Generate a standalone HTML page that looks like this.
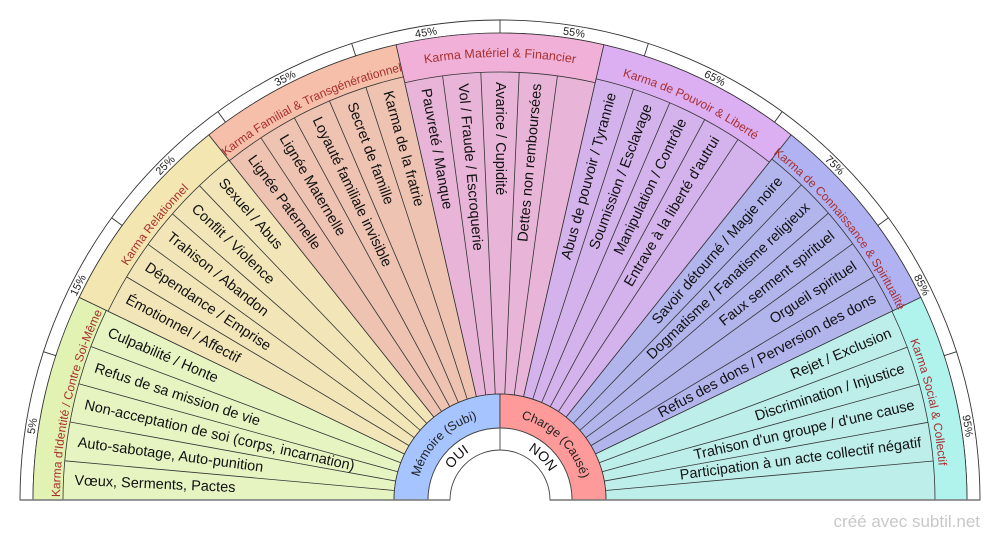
<!DOCTYPE html>
<html><head><meta charset="utf-8"><style>
html,body{margin:0;padding:0;background:#fff;width:1000px;height:540px;overflow:hidden;}
svg{display:block;font-family:"Liberation Sans",sans-serif;}
.it{font-size:14.5px;fill:#111;dominant-baseline:central;}
.cat{font-size:12px;fill:#a8302f;}
.pc{font-size:11px;fill:#222;}
</style></head><body>
<svg width="1000" height="540" viewBox="0 0 1000 540" xmlns="http://www.w3.org/2000/svg">
<defs>
<path id="p470" d="M 30 500 A 470 470 0 0 1 970 500"/>
<path id="c440" d="M 60 500 A 440 440 0 0 1 940 500"/>
<path id="c441" d="M 59 500 A 441 441 0 0 1 941 500"/>
<path id="c443" d="M 57 500 A 443 443 0 0 1 943 500"/>
<path id="m84" d="M 416 500 A 84 84 0 0 1 584 500"/>
<path id="o57" d="M 443 500 A 57 57 0 0 1 557 500"/>
</defs>
<path d="M 20 500 A 480 480 0 0 1 980 500 L 967 500 A 467 467 0 0 0 33 500 Z" fill="#fff" stroke="#333" stroke-width="0.9"/>
<g transform="translate(500,500)" stroke="#333" stroke-width="0.9">
<line x1="-467" y1="0" x2="-480" y2="0" transform="rotate(18)"/>
<line x1="-467" y1="0" x2="-480" y2="0" transform="rotate(36)"/>
<line x1="-467" y1="0" x2="-480" y2="0" transform="rotate(54)"/>
<line x1="-467" y1="0" x2="-480" y2="0" transform="rotate(72)"/>
<line x1="-467" y1="0" x2="-480" y2="0" transform="rotate(90)"/>
<line x1="-467" y1="0" x2="-480" y2="0" transform="rotate(108)"/>
<line x1="-467" y1="0" x2="-480" y2="0" transform="rotate(126)"/>
<line x1="-467" y1="0" x2="-480" y2="0" transform="rotate(144)"/>
<line x1="-467" y1="0" x2="-480" y2="0" transform="rotate(162)"/>
</g>
<text class="pc" text-anchor="middle"><textPath href="#p470" startOffset="5%">5%</textPath></text>
<text class="pc" text-anchor="middle"><textPath href="#p470" startOffset="15%">15%</textPath></text>
<text class="pc" text-anchor="middle"><textPath href="#p470" startOffset="25%">25%</textPath></text>
<text class="pc" text-anchor="middle"><textPath href="#p470" startOffset="35%">35%</textPath></text>
<text class="pc" text-anchor="middle"><textPath href="#p470" startOffset="45%">45%</textPath></text>
<text class="pc" text-anchor="middle"><textPath href="#p470" startOffset="55%">55%</textPath></text>
<text class="pc" text-anchor="middle"><textPath href="#p470" startOffset="65%">65%</textPath></text>
<text class="pc" text-anchor="middle"><textPath href="#p470" startOffset="75%">75%</textPath></text>
<text class="pc" text-anchor="middle"><textPath href="#p470" startOffset="85%">85%</textPath></text>
<text class="pc" text-anchor="middle"><textPath href="#p470" startOffset="95%">95%</textPath></text>

<g transform="translate(500,500)" stroke="#333" stroke-width="0.8">
<path d="M -106 0 L -467 0 A 467 467 0 0 1 -420.75 -202.62 L -95.5 -45.99 A 106 106 0 0 0 -106 0 Z" fill="#e2f2b2"/>
<path transform="rotate(25.714)" d="M -106 0 L -467 0 A 467 467 0 0 1 -420.75 -202.62 L -95.5 -45.99 A 106 106 0 0 0 -106 0 Z" fill="#f3e6b0"/>
<path transform="rotate(51.429)" d="M -106 0 L -467 0 A 467 467 0 0 1 -420.75 -202.62 L -95.5 -45.99 A 106 106 0 0 0 -106 0 Z" fill="#f5bfaa"/>
<path transform="rotate(77.143)" d="M -106 0 L -467 0 A 467 467 0 0 1 -420.75 -202.62 L -95.5 -45.99 A 106 106 0 0 0 -106 0 Z" fill="#f1b0d8"/>
<path transform="rotate(102.857)" d="M -106 0 L -467 0 A 467 467 0 0 1 -420.75 -202.62 L -95.5 -45.99 A 106 106 0 0 0 -106 0 Z" fill="#dcaef2"/>
<path transform="rotate(128.571)" d="M -106 0 L -467 0 A 467 467 0 0 1 -420.75 -202.62 L -95.5 -45.99 A 106 106 0 0 0 -106 0 Z" fill="#b0b2f2"/>
<path transform="rotate(154.286)" d="M -106 0 L -467 0 A 467 467 0 0 1 -420.75 -202.62 L -95.5 -45.99 A 106 106 0 0 0 -106 0 Z" fill="#b0f2ec"/>
<path d="M -106 0 L -437 0 A 437 437 0 0 1 -393.72 -189.61 L -95.5 -45.99 A 106 106 0 0 0 -106 0 Z" fill="#e6f4c2"/>
<path transform="rotate(25.714)" d="M -106 0 L -435 0 A 435 435 0 0 1 -391.92 -188.74 L -95.5 -45.99 A 106 106 0 0 0 -106 0 Z" fill="#f2e6b8"/>
<path transform="rotate(51.429)" d="M -106 0 L -434 0 A 434 434 0 0 1 -391.02 -188.3 L -95.5 -45.99 A 106 106 0 0 0 -106 0 Z" fill="#eec3b2"/>
<path transform="rotate(77.143)" d="M -106 0 L -428 0 A 428 428 0 0 1 -385.62 -185.7 L -95.5 -45.99 A 106 106 0 0 0 -106 0 Z" fill="#e8b5d8"/>
<path transform="rotate(102.857)" d="M -106 0 L -432 0 A 432 432 0 0 1 -389.22 -187.44 L -95.5 -45.99 A 106 106 0 0 0 -106 0 Z" fill="#d4b2ec"/>
<path transform="rotate(128.571)" d="M -106 0 L -436 0 A 436 436 0 0 1 -392.82 -189.17 L -95.5 -45.99 A 106 106 0 0 0 -106 0 Z" fill="#b2b4ec"/>
<path transform="rotate(154.286)" d="M -106 0 L -435 0 A 435 435 0 0 1 -391.92 -188.74 L -95.5 -45.99 A 106 106 0 0 0 -106 0 Z" fill="#bdeeea"/>
<line x1="-106" y1="0" x2="-437" y2="0" transform="rotate(5.143)"/>
<line x1="-106" y1="0" x2="-437" y2="0" transform="rotate(10.286)"/>
<line x1="-106" y1="0" x2="-437" y2="0" transform="rotate(15.429)"/>
<line x1="-106" y1="0" x2="-437" y2="0" transform="rotate(20.571)"/>
<line x1="-106" y1="0" x2="-435" y2="0" transform="rotate(30.857)"/>
<line x1="-106" y1="0" x2="-435" y2="0" transform="rotate(36)"/>
<line x1="-106" y1="0" x2="-435" y2="0" transform="rotate(41.143)"/>
<line x1="-106" y1="0" x2="-435" y2="0" transform="rotate(46.286)"/>
<line x1="-106" y1="0" x2="-434" y2="0" transform="rotate(56.571)"/>
<line x1="-106" y1="0" x2="-434" y2="0" transform="rotate(61.714)"/>
<line x1="-106" y1="0" x2="-434" y2="0" transform="rotate(66.857)"/>
<line x1="-106" y1="0" x2="-434" y2="0" transform="rotate(72)"/>
<line x1="-106" y1="0" x2="-428" y2="0" transform="rotate(82.286)"/>
<line x1="-106" y1="0" x2="-428" y2="0" transform="rotate(87.429)"/>
<line x1="-106" y1="0" x2="-428" y2="0" transform="rotate(92.571)"/>
<line x1="-106" y1="0" x2="-428" y2="0" transform="rotate(97.714)"/>
<line x1="-106" y1="0" x2="-432" y2="0" transform="rotate(108)"/>
<line x1="-106" y1="0" x2="-432" y2="0" transform="rotate(113.143)"/>
<line x1="-106" y1="0" x2="-432" y2="0" transform="rotate(118.286)"/>
<line x1="-106" y1="0" x2="-432" y2="0" transform="rotate(123.429)"/>
<line x1="-106" y1="0" x2="-436" y2="0" transform="rotate(133.714)"/>
<line x1="-106" y1="0" x2="-436" y2="0" transform="rotate(138.857)"/>
<line x1="-106" y1="0" x2="-436" y2="0" transform="rotate(144)"/>
<line x1="-106" y1="0" x2="-436" y2="0" transform="rotate(149.143)"/>
<line x1="-106" y1="0" x2="-435" y2="0" transform="rotate(159.429)"/>
<line x1="-106" y1="0" x2="-435" y2="0" transform="rotate(164.571)"/>
<line x1="-106" y1="0" x2="-435" y2="0" transform="rotate(169.714)"/>
<line x1="-106" y1="0" x2="-435" y2="0" transform="rotate(174.857)"/>
</g>

<text class="cat" text-anchor="middle"><textPath href="#c440" startOffset="7.143%">Karma d'Identité / Contre Soi-Même</textPath></text>
<text class="cat" text-anchor="middle"><textPath href="#c440" startOffset="21.429%">Karma Relationnel</textPath></text>
<text class="cat" text-anchor="middle"><textPath href="#c440" startOffset="35.714%">Karma Familial &amp; Transgénérationnel</textPath></text>
<text class="cat" text-anchor="middle" style="font-size:12.5px"><textPath href="#c443" startOffset="50%">Karma Matériel &amp; Financier</textPath></text>
<text class="cat" text-anchor="middle"><textPath href="#c441" startOffset="64.286%">Karma de Pouvoir &amp; Liberté</textPath></text>
<text class="cat" text-anchor="middle"><textPath href="#c441" startOffset="78.571%">Karma de Connaissance &amp; Spiritualité</textPath></text>
<text class="cat" text-anchor="middle"><textPath href="#c440" startOffset="92.857%">Karma Social &amp; Collectif</textPath></text>

<g transform="translate(500,500)">
<text class="it" x="-426" y="0" transform="rotate(2.571)">Vœux, Serments, Pactes</text>
<text class="it" x="-426" y="0" transform="rotate(7.714)">Auto-sabotage, Auto-punition</text>
<text class="it" x="-426" y="0" transform="rotate(12.857)">Non-acceptation de soi (corps, incarnation)</text>
<text class="it" x="-426" y="0" transform="rotate(18)">Refus de sa mission de vie</text>
<text class="it" x="-426" y="0" transform="rotate(23.143)">Culpabilité / Honte</text>
<text class="it" x="-424" y="0" transform="rotate(28.286)">Émotionnel / Affectif</text>
<text class="it" x="-424" y="0" transform="rotate(33.429)">Dépendance / Emprise</text>
<text class="it" x="-424" y="0" transform="rotate(38.571)">Trahison / Abandon</text>
<text class="it" x="-424" y="0" transform="rotate(43.714)">Conflit / Violence</text>
<text class="it" x="-424" y="0" transform="rotate(48.857)">Sexuel / Abus</text>
<text class="it" x="-424" y="0" transform="rotate(54)">Lignée Paternelle</text>
<text class="it" x="-424" y="0" transform="rotate(59.143)">Lignée Maternelle</text>
<text class="it" x="-424" y="0" transform="rotate(64.286)">Loyauté familiale invisible</text>
<text class="it" x="-424" y="0" transform="rotate(69.429)">Secret de famille</text>
<text class="it" x="-424" y="0" transform="rotate(74.571)">Karma de la fratrie</text>
<text class="it" x="-418" y="0" transform="rotate(79.714)">Pauvreté / Manque</text>
<text class="it" x="-418" y="0" transform="rotate(84.857)">Vol / Fraude / Escroquerie</text>
<text class="it" x="-418" y="0" transform="rotate(90)">Avarice / Cupidité</text>
<text class="it" x="418" y="0" text-anchor="end" transform="rotate(-84.857)">Dettes non remboursées</text>
<text class="it" x="422" y="0" text-anchor="end" transform="rotate(-74.571)">Abus de pouvoir / Tyrannie</text>
<text class="it" x="422" y="0" text-anchor="end" transform="rotate(-69.429)">Soumission / Esclavage</text>
<text class="it" x="422" y="0" text-anchor="end" transform="rotate(-64.286)">Manipulation / Contrôle</text>
<text class="it" x="422" y="0" text-anchor="end" transform="rotate(-59.143)">Entrave à la liberté d'autrui</text>
<text class="it" x="426" y="0" text-anchor="end" transform="rotate(-48.857)">Savoir détourné / Magie noire</text>
<text class="it" x="426" y="0" text-anchor="end" transform="rotate(-43.714)">Dogmatisme / Fanatisme religieux</text>
<text class="it" x="426" y="0" text-anchor="end" transform="rotate(-38.571)">Faux serment spirituel</text>
<text class="it" x="426" y="0" text-anchor="end" transform="rotate(-33.429)">Orgueil spirituel</text>
<text class="it" x="426" y="0" text-anchor="end" transform="rotate(-28.286)">Refus des dons / Perversion des dons</text>
<text class="it" x="425" y="0" text-anchor="end" transform="rotate(-23.143)">Rejet / Exclusion</text>
<text class="it" x="425" y="0" text-anchor="end" transform="rotate(-18)">Discrimination / Injustice</text>
<text class="it" x="425" y="0" text-anchor="end" transform="rotate(-12.857)">Trahison d'un groupe / d'une cause</text>
<text class="it" x="425" y="0" text-anchor="end" transform="rotate(-7.714)">Participation à un acte collectif négatif</text>
</g>

<path d="M 394 500 A 106 106 0 0 1 500 394 L 500 428 A 72 72 0 0 0 428 500 Z" fill="#a6c4ff" stroke="#333" stroke-width="0.8"/>
<path d="M 500 394 A 106 106 0 0 1 606 500 L 572 500 A 72 72 0 0 0 500 428 Z" fill="#ff9a9a" stroke="#333" stroke-width="0.8"/>
<path d="M 428 500 A 72 72 0 0 1 572 500 L 550 500 A 50 50 0 0 0 450 500 Z" fill="#fff" stroke="#444" stroke-width="0.9"/>
<line x1="500" y1="428" x2="500" y2="450" stroke="#555" stroke-width="1"/>
<text style="font-size:12.5px;fill:#222" text-anchor="middle"><textPath href="#m84" startOffset="25%">Mémoire (Subi)</textPath></text>
<text style="font-size:12.5px;fill:#222" text-anchor="middle"><textPath href="#m84" startOffset="75%">Charge (Causé)</textPath></text>
<text style="font-size:14px;fill:#111" text-anchor="middle"><textPath href="#o57" startOffset="25%">OUI</textPath></text>
<text style="font-size:14px;fill:#111" text-anchor="middle"><textPath href="#o57" startOffset="75%">NON</textPath></text>

<line x1="20" y1="500" x2="450" y2="500" stroke="#777" stroke-width="1.6"/>
<line x1="550" y1="500" x2="980" y2="500" stroke="#777" stroke-width="1.6"/>
<text x="980" y="527" text-anchor="end" style="font-size:17px;fill:#c8c8c8">créé avec subtil.net</text>
</svg>
</body></html>
